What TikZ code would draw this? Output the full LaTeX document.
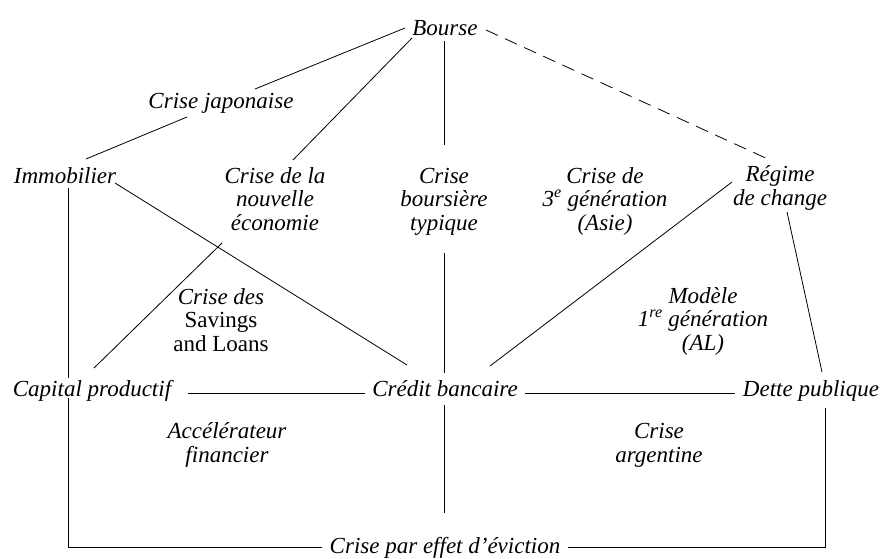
\documentclass[tikz,border=0pt]{standalone}
\usepackage{fontspec}
\setmainfont{Liberation Serif}
\begin{document}
\begin{tikzpicture}[x=1pt,y=-1pt,
  lab/.style={font=\fontsize{23}{23.5}\selectfont\itshape, inner sep=0pt, align=center, anchor=base},
  conn/.style={line width=0.8pt},
  dashconn/.style={line width=0.8pt, dash pattern=on 13pt off 8pt}]
\useasboundingbox (0,0) rectangle (882,558);
% nodes (anchor base = baseline of the last line)
\node[lab] (bourse) at (445,35) {Bourse};
\node[lab] (cj) at (221,108) {Crise japonaise};
\node[lab] (imm) at (65,183) {Immobilier};
\node[lab] (cne) at (275,230) {Crise de la\\nouvelle\\économie};
\node[lab] (cbt) at (444,230) {Crise\\boursière\\typique};
\node[lab] (c3g) at (605,230) {Crise de\\3\textsuperscript{e} génération\\(Asie)};
\node[lab] (reg) at (780,205) {Régime\\de change};
\node[lab] (csl) at (221,351) {Crise des\\\upshape Savings\\\upshape and Loans};
\node[lab] (m1g) at (703,350) {Modèle\\1\textsuperscript{re} génération\\(AL)};
\node[lab] (cp) at (92,396) {Capital productif};
\node[lab] (cb) at (445,396) {Crédit bancaire};
\node[lab] (dp) at (811,396) {Dette publique};
\node[lab] (acc) at (227,462) {Accélérateur\\financier};
\node[lab] (ca) at (659,462) {Crise\\argentine};
\node[lab] (ev) at (445,553) {Crise par effet d’éviction};
\coordinate (cbend) at ([shift={(-1,117)}]cb.base);
% connectors
\draw[conn] ([shift={(-40,-7)}]bourse.base) -- ([shift={(34,-19)}]cj.base);
\draw[conn] ([shift={(-34,9)}]cj.base) -- ([shift={(21,-24)}]imm.base);
\draw[conn] ([shift={(-33,3)}]bourse.base) -- ([shift={(18,-70)}]cne.base);
\draw[conn] ([shift={(-1,6)}]bourse.base) -- ([shift={(0,-85)}]cbt.base);
\draw[conn] ([shift={(0,23)}]cbt.base) -- ([shift={(-1,-23)}]cb.base);
\draw[conn] ([shift={(-1,9)}]cb.base) -- (cbend);
\draw[conn] ([shift={(50,0)}]imm.base) -- ([shift={(-38,-31)}]cb.base);
\draw[conn] ([shift={(3,5)}]imm.base) -- ([shift={(-24,-18)}]cp.base);
\draw[conn] ([shift={(-24,2)}]cp.base) |- ([shift={(-123,-6)}]ev.base);
\draw[conn] ([shift={(-53,13)}]cne.base) -- ([shift={(2,-28)}]cp.base);
\draw[conn] ([shift={(96,-3)}]cp.base) -- ([shift={(-80,-3)}]cb.base);
\draw[conn] ([shift={(80,-3)}]cb.base) -- ([shift={(-76,-3)}]dp.base);
\draw[conn] ([shift={(45,-30)}]cb.base) -- ([shift={(-48,-23)}]reg.base);
\draw[conn] ([shift={(7,7)}]reg.base) -- ([shift={(11,-24)}]dp.base);
\draw[dashconn] ([shift={(41,-5)}]bourse.base) -- ([shift={(-10,-45)}]reg.base);
\draw[conn] ([shift={(14,12)}]dp.base) |- ([shift={(123,-6)}]ev.base);
\end{tikzpicture}
\end{document}
